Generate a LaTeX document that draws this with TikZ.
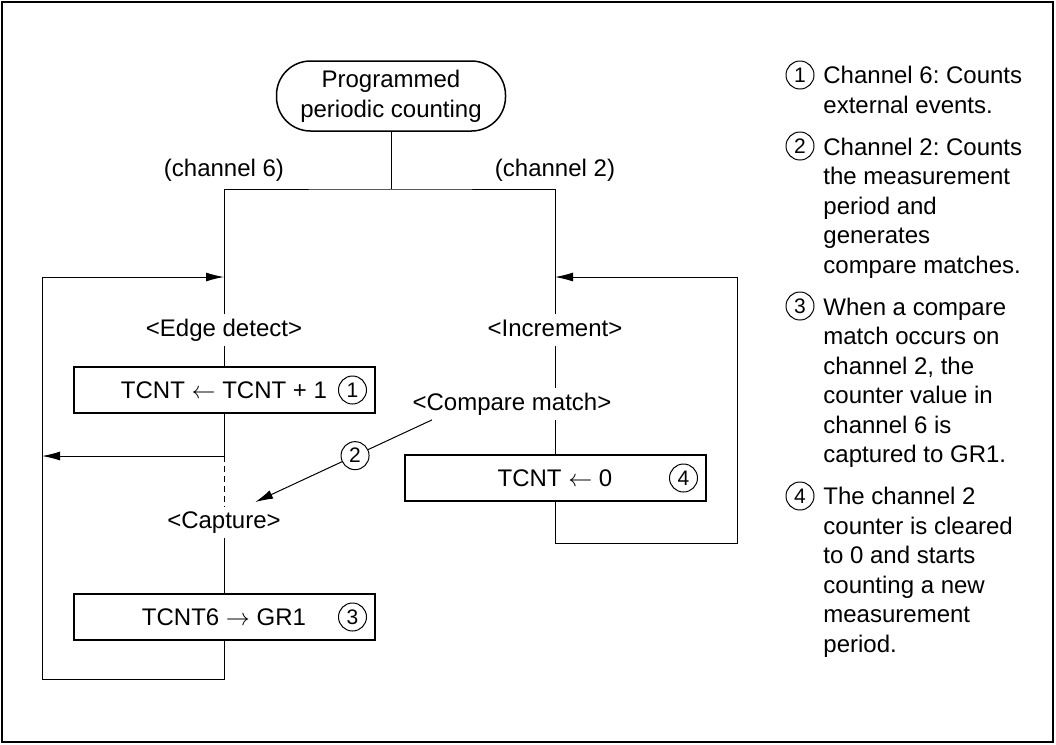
\documentclass[tikz,border=0pt]{standalone}
\usepackage{fontspec}
\setmainfont{Liberation Sans}
\usetikzlibrary{arrows.meta}
\frenchspacing

\begin{document}
\begin{tikzpicture}[x=0.5pt, y=-0.5pt, >={Latex[length=9pt,width=4.5pt]},
  font=\fontsize{12}{14.75}\selectfont,
  flow/.style={line width=0.5pt},
  proc/.style={draw, line width=1pt, minimum width=150.5pt, minimum height=23pt, inner sep=0pt},
  lbl/.style={inner sep=2pt, text height=9pt, text depth=2.5pt},
  num/.style={draw, circle, line width=0.5pt, minimum size=14pt, inner sep=0pt, fill=white,
    font=\fontsize{10.5}{12}\selectfont},
  note/.style={anchor=base west, align=left, inner sep=0pt}]
  \useasboundingbox (0,0) rectangle (1056,745);
  \draw[line width=0.75pt] (2,2) rectangle (1053,742);

  % start of both channels
  \node[draw, line width=0.75pt, rounded corners=17pt, minimum width=114.5pt, minimum height=35pt,
    align=center, font=\fontsize{12}{15}\selectfont] (start) at (391,96) {Programmed\\periodic counting};
  \coordinate (split) at (391,189);
  \node (ch6) at (224,170) {(channel 6)};
  \node (ch2) at (555,170) {(channel 2)};

  % channel 6
  \node[lbl] (edge) at (224,330) {<Edge detect>};
  \node[proc] (inc6) at (224,390) {TCNT $\leftarrow$ TCNT + 1};
  \node[num] (n1) at ([xshift=-11.5pt]inc6.east) {1};
  \coordinate (ovf) at (224,456);
  \node[lbl] (cap) at (224,522) {<Capture>};
  \node[proc] (cap6) at (224,617) {TCNT6 $\rightarrow$ GR1};
  \node[num] (n3) at ([xshift=-11.5pt]cap6.east) {3};
  \coordinate (loop6) at (42,679);
  \coordinate (ret6) at (224,277);

  % channel 2
  \node[lbl] (incr) at (555,330) {<Increment>};
  \node[lbl] (cmp) at (512,404) {<Compare match>};
  \node[proc] (clr) at (555,478) {TCNT $\leftarrow$ 0};
  \node[num] (n4) at ([xshift=-11.5pt]clr.east) {4};
  \coordinate (loop2) at (737,543);
  \coordinate (ret2) at (555,277);

  \draw[flow] (start) -- (split);
  \draw[flow] (edge) |- (split) -| (incr);
  \draw[flow] (edge) -- (inc6);
  \draw[flow] (inc6) -- (ovf);
  \draw[flow,->] (ovf) -- (loop6 |- ovf);
  \draw[flow, dash pattern=on 3pt off 2pt] (ovf) -- (cap);
  \draw[flow] (cap) -- (cap6);
  \draw[flow,->] (cap6) |- (loop6) |- (ret6);

  \draw[flow] (incr) -- (incr |- cmp.north);
  \draw[flow] (incr |- cmp.south) -- (clr);
  \draw[flow,->] (clr) |- (loop2) |- (ret2);

  \draw[flow,->] ([xshift=-40pt]cmp.south) -- node[num, pos=0.435] (n2) {2} ([xshift=-15pt,yshift=2pt]cap.north east);

  % notes (placed at the baseline of their last line)
  \node[num] (k1) at (800,75) {1};
  \node[note] (t1) at (823,113) {Channel 6: Counts\\external events.};
  \node[num] (k2) at (800,146) {2};
  \node[note] (t2) at (823,273) {Channel 2: Counts\\the measurement\\period and\\generates\\compare matches.};
  \node[num] (k3) at (800,306) {3};
  \node[note] (t3) at (823,462.5) {When a compare\\match occurs on\\channel 2, the\\counter value in\\channel 6 is\\captured to GR1.};
  \node[num] (k4) at (800,496) {4};
  \node[note] (t4) at (823,652) {The channel 2\\counter is cleared\\to 0 and starts\\counting a new\\measurement\\period.};
\end{tikzpicture}
\end{document}
